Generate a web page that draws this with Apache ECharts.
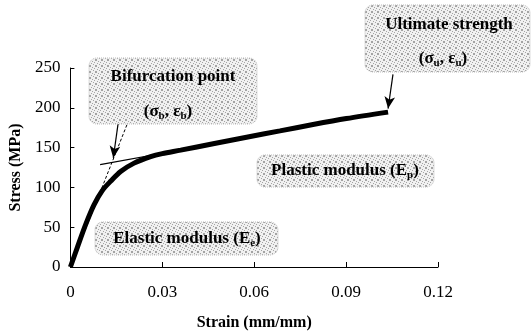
<!DOCTYPE html>
<html>
<head>
<meta charset="utf-8">
<script src="https://cdn.jsdelivr.net/npm/echarts@6/dist/echarts.min.js"></script>
<style>html,body{margin:0;padding:0;background:#fff}#c{width:532px;height:336px}</style>
</head>
<body>
<div id="c"></div>
<script>
// ---- data ----
var strain = [0, 0.0023, 0.0050, 0.0077, 0.0104, 0.0132, 0.0164, 0.0208, 0.0262, 0.0300, 0.0360, 0.0466, 0.0575, 0.0684, 0.0792, 0.0901, 0.1037];
var stress = [0, 25, 53.5, 78, 96, 108, 120, 130.5, 138.7, 142.5, 146.8, 154.9, 163, 171, 179, 186.5, 194.6];
var elasticTangentX = [0, 0.0188];
var elasticTangentY = [0, 182];
var plasticTangentX = [0.0097, 0.0360];
var plasticTangentY = [128.6, 147];
var bifArrowFrom = [0.0156, 181];
var bifArrowTo = [0.0140, 137];
var ultArrowFrom = [0.1053, 242];
var ultArrowTo = [0.1037, 199];
var xTickLabels = ['0', '0.03', '0.06', '0.09', '0.12'];
var yTickLabels = ['0', '50', '100', '150', '200', '250'];
var xName = 'Strain (mm/mm)';
var yName = 'Stress (MPa)';

function pairs(xs, ys) { return xs.map(function (x, i) { return [x, ys[i]]; }); }

// halftone pattern (fixed matrix)
var pat = document.createElement('canvas');
pat.width = 6; pat.height = 6;
var pctx = pat.getContext('2d');
var M = [
  [1,0,0,0,0,1],
  [0,0,1,0,0,0],
  [0,0,0,0,1,0],
  [0,1,0,0,0,0],
  [0,0,0,1,0,0],
  [1,0,0,0,0,1]];
for (var r = 0; r < 6; r++) for (var c = 0; c < 6; c++) {
  pctx.fillStyle = M[r][c] ? '#a4a4a4' : '#f1f1f1';
  pctx.fillRect(c, r, 1, 1);
}
var patternFill = { image: pat, repeat: 'repeat' };

var FONT = 'Liberation Serif';
var chart = echarts.init(document.getElementById('c'), null, { renderer: 'canvas' });

function box(x, y, w, h) {
  return { type: 'rect', shape: { x: x, y: y, width: w, height: h, r: 8 }, z: 10,
    style: { fill: patternFill, stroke: '#bbb', lineWidth: 1, lineDash: [1, 1] } };
}
var mainSt = { fontFamily: FONT, fontWeight: 'bold', fontSize: 17, color: '#000', lineHeight: 20, verticalAlign: 'middle' };
var subSt = { fontFamily: FONT, fontWeight: 'bold', fontSize: 11, color: '#000', lineHeight: 12, verticalAlign: 'bottom' };
function txt(x, y, t) {
  return { type: 'text', x: x, y: y, z: 11,
    style: { text: t, fontFamily: FONT, fontWeight: 'bold', fontSize: 17, fill: '#000', align: 'center', verticalAlign: 'middle',
      rich: { m: mainSt, s: subSt } } };
}

chart.setOption({
  animation: false,
  backgroundColor: '#fff',
  grid: { left: 70, top: 68, width: 368, height: 205, containLabel: false },
  xAxis: {
    type: 'value', min: 0, max: 0.12, interval: 0.03,
    name: xName, nameLocation: 'middle', nameGap: 48,
    nameTextStyle: { fontFamily: FONT, fontWeight: 'bold', fontSize: 16, color: '#000' },
    axisLine: { lineStyle: { color: '#000', width: 1 } },
    axisTick: { inside: true, length: 5, lineStyle: { color: '#000' } },
    axisLabel: { margin: 17, fontFamily: FONT, fontSize: 17, color: '#000',
      formatter: function (v) { return xTickLabels[Math.round(v / 0.03)]; } },
    splitLine: { show: false }
  },
  yAxis: {
    type: 'value', min: 0, max: 250, interval: 50,
    name: yName, nameLocation: 'middle', nameGap: 46, nameRotate: 90,
    nameTextStyle: { fontFamily: FONT, fontWeight: 'bold', fontSize: 16, color: '#000' },
    axisLine: { show: true, lineStyle: { color: '#000', width: 1 } },
    axisTick: { show: true, inside: true, length: 4, lineStyle: { color: '#000' } },
    axisLabel: { margin: 10, fontFamily: FONT, fontSize: 17, color: '#000',
      formatter: function (v) { return yTickLabels[Math.round(v / 50)]; } },
    splitLine: { show: false }
  },
  series: [
    { type: 'line', data: pairs(strain, stress), smooth: 0.3, showSymbol: false, z: 3,
      lineStyle: { color: '#000', width: 5 } },
    { type: 'line', data: pairs(elasticTangentX, elasticTangentY), showSymbol: false, z: 4,
      lineStyle: { color: '#000', width: 1, type: [3, 2] } },
    { type: 'line', data: pairs(plasticTangentX, plasticTangentY), showSymbol: false, z: 4,
      lineStyle: { color: '#000', width: 1.2 },
      markLine: { silent: true, symbol: ['none', 'arrow'], symbolSize: [8, 12], label: { show: false },
        lineStyle: { color: '#000', width: 1.2, type: 'solid' },
        data: [
          [{ coord: bifArrowFrom }, { coord: bifArrowTo }],
          [{ coord: ultArrowFrom }, { coord: ultArrowTo }]
        ] } }
  ],
  graphic: [
    box(89, 58, 168, 66),
    txt(173, 77, '{m|Bifurcation point}'),
    txt(168, 112, '{m|(σ}{s|b}{m|, ε}{s|b}{m|)}'),
    box(365, 5, 165, 67),
    txt(449, 25, '{m|Ultimate strength}'),
    txt(443, 59, '{m|(σ}{s|u}{m|, ε}{s|u}{m|)}'),
    box(257, 155, 177, 32),
    txt(345, 171, '{m|Plastic modulus (E}{s|p}{m|)}'),
    box(95, 222, 183, 33),
    txt(187, 239, '{m|Elastic modulus (E}{s|e}{m|)}')
  ]
});
</script>
</body>
</html>
